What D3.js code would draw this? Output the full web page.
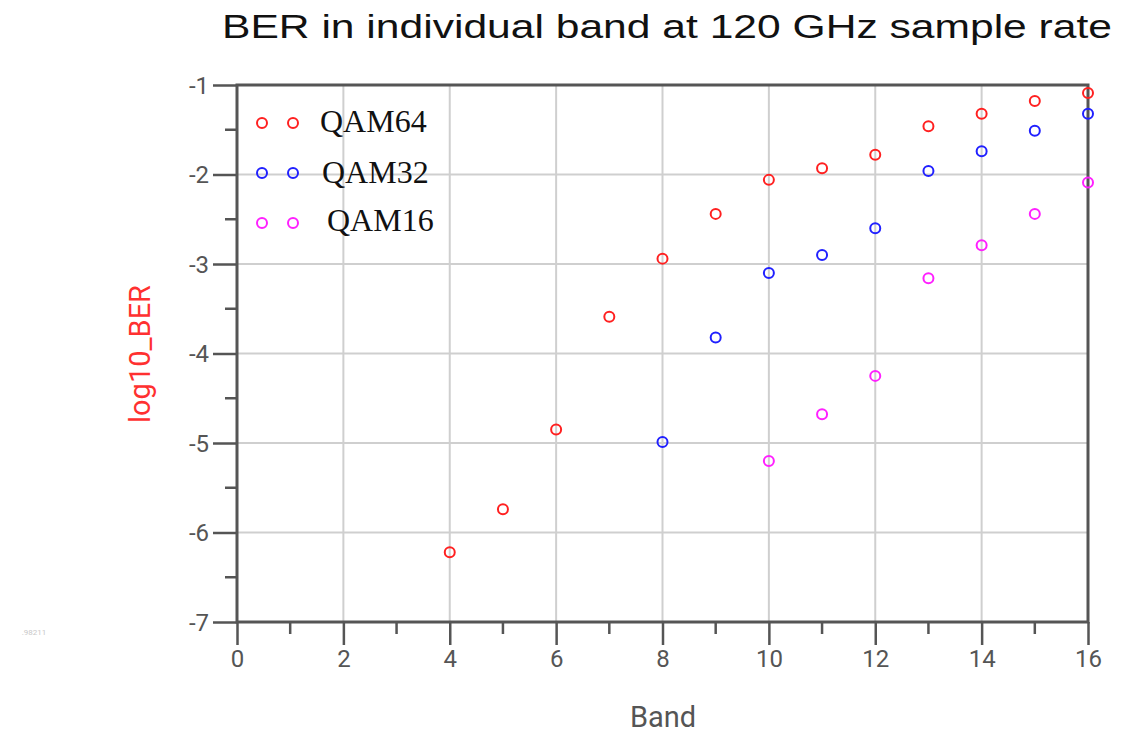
<!DOCTYPE html>
<html><head><meta charset="utf-8">
<script src="https://cdn.jsdelivr.net/npm/d3@7"></script>
<style>body{margin:0;background:#fff;}svg{display:block;}</style>
</head><body>
<svg id="c" width="1132" height="751"></svg>
<script>
const bands64 = [4,5,6,7,8,9,10,11,12,13,14,15,16];
const qam64 = [-6.22,-5.74,-4.85,-3.59,-2.94,-2.44,-2.06,-1.93,-1.78,-1.46,-1.32,-1.18,-1.09];
const bands32 = [8,9,10,11,12,13,14,15,16];
const qam32 = [-4.99,-3.82,-3.10,-2.90,-2.60,-1.96,-1.74,-1.51,-1.32];
const bands16 = [10,11,12,13,14,15,16];
const qam16 = [-5.20,-4.68,-4.25,-3.16,-2.79,-2.44,-2.09];
const seriesNames = ["QAM64","QAM32","QAM16"];
const seriesColors = ["#ff2020","#2020ff","#ff20ff"];
const xTicks = [0,2,4,6,8,10,12,14,16];
const yTicks = [-7,-6,-5,-4,-3,-2,-1];

const svg = d3.select("#c");
const L=237, R=1088, T=85, B=622;
const x = d3.scaleLinear().domain([0,16]).range([L,R]);
const y = d3.scaleLinear().domain([-7,-1]).range([B,T]);

// grid
svg.append("g").selectAll("line").data(xTicks.filter(d=>d>0&&d<16)).join("line")
  .attr("x1",d=>x(d)).attr("x2",d=>x(d)).attr("y1",T).attr("y2",B)
  .attr("stroke","#cfcfcf").attr("stroke-width",2);
svg.append("g").selectAll("line").data(yTicks.filter(d=>d>-7&&d<-1)).join("line")
  .attr("y1",d=>y(d)).attr("y2",d=>y(d)).attr("x1",L).attr("x2",R)
  .attr("stroke","#cfcfcf").attr("stroke-width",2);

// axes
const axCol="#555";
const tickFont = {family:"Roboto, sans-serif", size:24, weight:400};
const xMinor = d3.range(1,16,2);
const yMinor = d3.range(-6.5,-1,1);
const gx = svg.append("g").attr("transform",`translate(0,${B})`)
  .call(d3.axisBottom(x).tickValues(xTicks).tickSize(23).tickPadding(5).tickFormat(d=>String(d)));
gx.select(".domain").remove();
gx.selectAll("line").attr("stroke",axCol).attr("stroke-width",2.5);
gx.selectAll("text").attr("font-family",tickFont.family).attr("font-size",tickFont.size)
  .attr("font-weight",tickFont.weight).attr("fill",axCol);
svg.append("g").selectAll("line").data(xMinor).join("line")
  .attr("x1",d=>x(d)).attr("x2",d=>x(d)).attr("y1",B).attr("y2",B+12)
  .attr("stroke",axCol).attr("stroke-width",2.5);

const gy = svg.append("g").attr("transform",`translate(${L},0)`)
  .call(d3.axisLeft(y).tickValues(yTicks).tickSize(24).tickPadding(4).tickFormat(d=>String(d)));
gy.select(".domain").remove();
gy.selectAll("line").attr("stroke",axCol).attr("stroke-width",2.5);
gy.selectAll("text").attr("font-family",tickFont.family).attr("font-size",tickFont.size)
  .attr("font-weight",tickFont.weight).attr("fill",axCol).attr("dy","0.35em");
svg.append("g").selectAll("line").data(yMinor).join("line")
  .attr("y1",d=>y(d)).attr("y2",d=>y(d)).attr("x1",L-12).attr("x2",L)
  .attr("stroke",axCol).attr("stroke-width",2.5);

// frame
svg.append("rect").attr("x",L).attr("y",T).attr("width",R-L).attr("height",B-T)
  .attr("fill","none").attr("stroke",axCol).attr("stroke-width",3);

// points
const series = [[bands64,qam64],[bands32,qam32],[bands16,qam16]];
series.forEach(([xs,ys],i)=>{
  svg.append("g").selectAll("circle").data(xs.map((b,j)=>[b,ys[j]])).join("circle")
    .attr("cx",d=>x(d[0])).attr("cy",d=>y(d[1])).attr("r",5)
    .attr("fill","none").attr("stroke",seriesColors[i]).attr("stroke-width",2);
});

// legend
const legY=[123,173,223], legTY=[121,172,220], legTX=[320,322,327];
seriesNames.forEach((n,i)=>{
  [262,293].forEach(cx=>{
    svg.append("circle").attr("cx",cx).attr("cy",legY[i]).attr("r",5)
      .attr("fill","none").attr("stroke",seriesColors[i]).attr("stroke-width",2);
  });
  svg.append("text").attr("x",legTX[i]).attr("y",legTY[i]).attr("dy","0.35em")
    .attr("font-family","'Liberation Serif', 'Times New Roman', serif").attr("font-size",32)
    .attr("fill","#111").text(n);
});

// titles
svg.append("text").attr("x",222).attr("y",38)
  .attr("font-family","'Liberation Sans', Arial, sans-serif").attr("font-size",34).attr("fill","#111")
  .attr("textLength",890).attr("lengthAdjust","spacingAndGlyphs")
  .text("BER in individual band at 120 GHz sample rate");
svg.append("text").attr("transform","translate(150,354) rotate(-90)").attr("text-anchor","middle")
  .attr("font-family","Roboto, sans-serif").attr("font-size",29).attr("font-weight",400).attr("fill","#ff3030")
  .text("log10_BER");
svg.append("text").attr("x",663).attr("y",727).attr("text-anchor","middle")
  .attr("font-family","Roboto, sans-serif").attr("font-size",29).attr("font-weight",400).attr("fill",axCol)
  .text("Band");
svg.append("text").attr("x",34).attr("y",635).attr("text-anchor","middle")
  .attr("font-family","Roboto, sans-serif").attr("font-size",8).attr("fill","#c8c8c8")
  .text(".98211");
</script>
</body></html>
